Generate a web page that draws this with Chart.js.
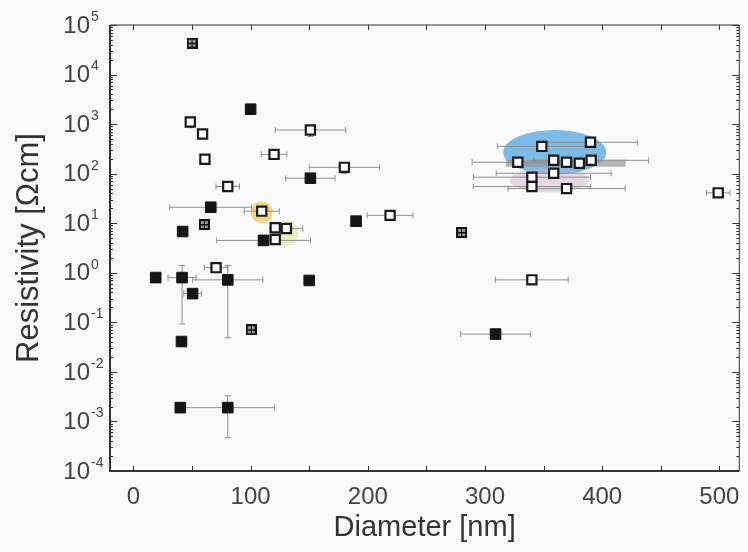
<!DOCTYPE html>
<html>
<head>
<meta charset="utf-8">
<script src="https://cdn.jsdelivr.net/npm/chart.js@4.4.1/dist/chart.umd.min.js"></script>
<style>
html, body { margin: 0; padding: 0; background: #fafafa; }
#wrap { width: 748px; height: 552px; }
</style>
</head>
<body>
<div id="wrap"><canvas id="chart" width="748" height="552"></canvas></div>
<script>
// x tick labels (nm) and y decades
var xTicks = [0, 100, 200, 300, 400, 500];
var yExps = [-4, -3, -2, -1, 0, 1, 2, 3, 4, 5];

// filled squares
var filledX    = [100, 151, 66, 42, 19, 41.5, 80.5, 50.5, 150, 41, 40, 80.5, 190, 309, 111];
var filledY    = [2000, 81, 21, 6.8, 0.8, 0.8, 0.72, 0.38, 0.7, 0.041, 0.0019, 0.0019, 11, 0.058, 4.5];
var filledXErr = [0, 21, 35, 0, 0, 12, 30, 7.5, 0, 0, 0, 40, 0, 30, 40];
var filledYLo  = [null, null, null, null, null, 0.093, 0.049, null, null, null, null, 0.00047, null, null, null];
var filledYHi  = [null, null, null, null, null, 1.4, 1.4, null, null, null, null, 0.0033, null, null, null];

// open squares
var openX    = [48.5, 59, 61, 151, 120, 80.5, 109.5, 121, 130.5, 121, 70.5, 180, 219, 499, 340,
                348.5, 390, 328, 358.6, 369.6, 380.5, 390.6, 358.6, 340, 340, 369.6];
var openY    = [1100, 630, 195, 760, 245, 55, 17.5, 8.1, 7.8, 4.7, 1.27, 134, 14.4, 41, 0.72,
                355, 430, 170, 186, 170, 162, 186, 102, 85, 55, 50];
var openXErr = [0, 0, 0, 30, 11, 10, 15, 0, 14, 0, 10, 30, 19.5, 10, 31,
                38, 40, 39, 0, 0, 0, 49, 49, 50, 50, 50];
var openYLo  = [850, 500, null, 560, null, null, null, null, null, null, null, 100, null, null, null,
                null, null, null, null, null, null, null, null, null, null, null];

// half-filled (hatched) squares
var hatchX = [50, 60.5, 100.5, 280];
var hatchY = [43000, 9.4, 0.071, 6.5];

// coloured highlight areas (data units, y radius in decades)
var highlights = [
  { x: 359.5, y: 270, rx: 44, ry: 0.45, color: 'rgba(95,170,225,0.8)' },
  { x: 355, y: 73, rx: 34, ry: 0.24, color: 'rgba(205,175,205,0.45)' },
  { x: 369, y: 162, rx: 51, ry: 0.07, color: 'rgba(150,150,150,0.7)', rect: true },
  { x: 109.4, y: 16.6, rx: 9.3, ry: 0.22, color: 'rgba(238,200,95,0.75)' },
  { x: 129.4, y: 6.2, rx: 11, ry: 0.26, color: 'rgba(220,230,140,0.55)' }
];

var FONT = '"Liberation Sans", Arial, sans-serif';

function pts(xs, ys) {
  return xs.map(function(x, i){ return { x: x, y: ys[i] }; });
}

function hatchMarker() {
  var c = document.createElement('canvas');
  c.width = 11; c.height = 11;
  var g = c.getContext('2d');
  g.fillStyle = '#111'; g.fillRect(0, 0, 11, 11);
  g.fillStyle = '#9a9a9a'; g.fillRect(2, 2, 7, 7);
  g.fillStyle = '#111'; g.fillRect(2, 5, 7, 1.5);
  g.fillRect(5, 2, 1, 7);
  return c;
}

var errorBars = {
  id: 'errorBars',
  beforeDatasetsDraw: function(chart) {
    var ctx = chart.ctx, xs = chart.scales.x, ys = chart.scales.y;
    var area = chart.chartArea;
    ctx.save();
    ctx.beginPath();
    ctx.rect(area.left, area.top, area.right - area.left, area.bottom - area.top);
    ctx.clip();

    highlights.forEach(function(h){
      var cx = xs.getPixelForValue(h.x), cy = ys.getPixelForValue(h.y);
      var rx = xs.getPixelForValue(h.x + h.rx) - cx;
      var ry = cy - ys.getPixelForValue(h.y * Math.pow(10, h.ry));
      ctx.fillStyle = h.color;
      ctx.beginPath();
      if (h.rect) ctx.rect(cx - rx, cy - ry, 2 * rx, 2 * ry);
      else ctx.ellipse(cx, cy, rx, ry, 0, 0, Math.PI * 2);
      ctx.fill();
    });

    ctx.strokeStyle = '#8f8f8f';
    ctx.lineWidth = 1;
    function bars(X, Y, XE, YL, YH) {
      X.forEach(function(x, i){
        var px = xs.getPixelForValue(x), py = ys.getPixelForValue(Y[i]);
        ctx.beginPath();
        if (XE && XE[i]) {
          var l = xs.getPixelForValue(x - XE[i]), r = xs.getPixelForValue(x + XE[i]);
          ctx.moveTo(l, py); ctx.lineTo(r, py);
          ctx.moveTo(l, py - 3); ctx.lineTo(l, py + 3);
          ctx.moveTo(r, py - 3); ctx.lineTo(r, py + 3);
        }
        if (YL && YL[i] != null) {
          var b = ys.getPixelForValue(YL[i]);
          ctx.moveTo(px, py); ctx.lineTo(px, b);
          ctx.moveTo(px - 3, b); ctx.lineTo(px + 3, b);
        }
        if (YH && YH[i] != null) {
          var t = ys.getPixelForValue(YH[i]);
          ctx.moveTo(px, py); ctx.lineTo(px, t);
          ctx.moveTo(px - 3, t); ctx.lineTo(px + 3, t);
        }
        ctx.stroke();
      });
    }
    bars(filledX, filledY, filledXErr, filledYLo, filledYHi);
    bars(openX, openY, openXErr, openYLo, null);
    ctx.restore();
  },
  afterDraw: function(chart) {
    var ctx = chart.ctx, xs = chart.scales.x, ys = chart.scales.y;
    var a = chart.chartArea;
    ctx.save();
    ctx.strokeStyle = '#333';
    // frame
    ctx.lineWidth = 1;
    ctx.beginPath();
    ctx.moveTo(a.left, a.top); ctx.lineTo(a.right, a.top); ctx.lineTo(a.right, a.bottom);
    ctx.stroke();
    ctx.lineWidth = 2;
    ctx.beginPath();
    ctx.moveTo(a.left, a.top); ctx.lineTo(a.left, a.bottom); ctx.lineTo(a.right, a.bottom);
    ctx.stroke();
    // ticks
    ctx.lineWidth = 1;
    ctx.beginPath();
    for (var v = 0; v <= 500; v += 50) {
      var px = Math.round(xs.getPixelForValue(v)) + 0.5;
      ctx.moveTo(px, a.bottom); ctx.lineTo(px, a.bottom - 5);
      ctx.moveTo(px, a.top); ctx.lineTo(px, a.top + 5);
    }
    yExps.forEach(function(e){
      for (var m = 1; m <= 9; m++) {
        if (e === 5 && m > 1) break;
        var py = Math.round(ys.getPixelForValue(m * Math.pow(10, e))) + 0.5;
        var len = m === 1 ? 7 : 3;
        ctx.moveTo(a.left, py); ctx.lineTo(a.left + len, py);
        ctx.moveTo(a.right, py); ctx.lineTo(a.right - len, py);
      }
    });
    ctx.stroke();
    // y labels with superscripts
    ctx.fillStyle = '#444';
    yExps.forEach(function(e){
      var py = ys.getPixelForValue(Math.pow(10, e));
      ctx.font = '24px ' + FONT;
      ctx.textAlign = 'right';
      ctx.textBaseline = 'middle';
      ctx.fillText('10', 90, py + 1);
      ctx.font = '14px ' + FONT;
      ctx.textAlign = 'left';
      ctx.fillText(String(e), 91, py - 8);
    });
    ctx.restore();
  }
};

new Chart(document.getElementById('chart'), {
  type: 'scatter',
  data: {
    datasets: [
      {
        data: pts(filledX, filledY),
        pointStyle: 'rect', pointRadius: 7.5, pointHoverRadius: 7.5,
        backgroundColor: '#151515', borderColor: '#151515', borderWidth: 1
      },
      {
        data: pts(hatchX, hatchY),
        pointStyle: hatchMarker(), pointRadius: 6
      },
      {
        data: pts(openX, openY),
        pointStyle: 'rect', pointRadius: 6.5, pointHoverRadius: 6.5,
        backgroundColor: '#ffffff', borderColor: '#1a1a1a', borderWidth: 2.2
      }
    ]
  },
  options: {
    responsive: false,
    animation: false,
    devicePixelRatio: 1,
    layout: { padding: { top: 25, right: 0, left: 0, bottom: 0 } },
    plugins: { legend: { display: false }, tooltip: { enabled: false } },
    scales: {
      x: {
        type: 'linear', min: -20, max: 517,
        grid: { display: false, drawTicks: false },
        border: { display: false },
        afterBuildTicks: function(s){ s.ticks = xTicks.map(function(v){ return { value: v }; }); },
        afterFit: function(s){ s.height = 81; s.paddingLeft = 0; s.paddingRight = 0; },
        ticks: { color: '#444', padding: 12, font: { family: FONT, size: 24 } },
        title: { display: true, text: 'Diameter [nm]', color: '#333', padding: { top: 0, bottom: 7 },
                 font: { family: FONT, size: 29 } }
      },
      y: {
        type: 'logarithmic', min: 1e-4, max: 1e5,
        grid: { display: false, drawTicks: false },
        border: { display: false },
        afterBuildTicks: function(s){ s.ticks = yExps.map(function(e){ return { value: Math.pow(10, e) }; }); },
        afterFit: function(s){ s.width = 110; s.paddingTop = 0; s.paddingBottom = 0; },
        ticks: { display: false },
        title: { display: true, text: 'Resistivity [\u03A9cm]', color: '#333', padding: { top: 11, bottom: 0 },
                 font: { family: FONT, size: 31 } }
      }
    }
  },
  plugins: [errorBars]
});
</script>
</body>
</html>
